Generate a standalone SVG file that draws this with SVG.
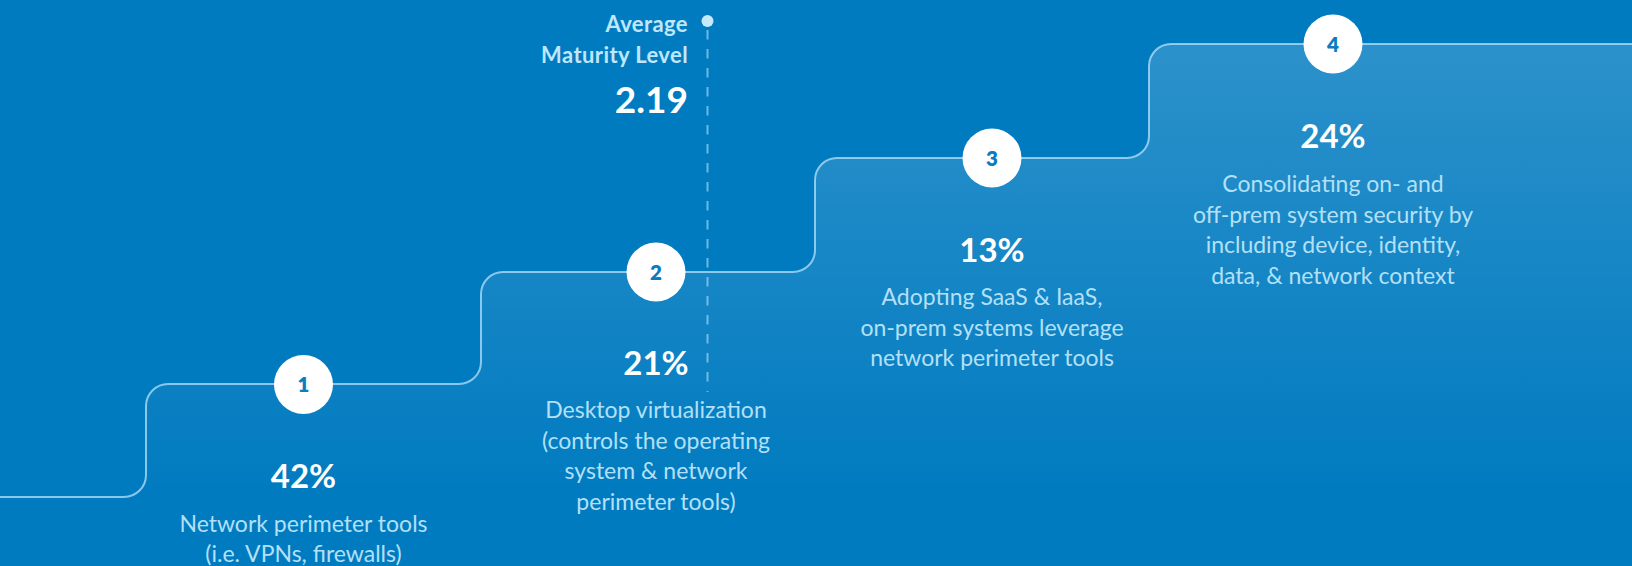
<svg xmlns="http://www.w3.org/2000/svg" width="1632" height="566" viewBox="0 0 1632 566">
<defs>
<linearGradient id="stepFill" gradientUnits="userSpaceOnUse" x1="0" y1="44" x2="0" y2="490">
<stop offset="0" stop-color="#ffffff" stop-opacity="0.17"/>
<stop offset="1" stop-color="#ffffff" stop-opacity="0"/>
</linearGradient>
<style>
.pct{font-family:Lato,"Liberation Sans",sans-serif;font-weight:700;font-size:33px;fill:#ffffff;text-anchor:middle}
.desc{font-family:Lato,"Liberation Sans",sans-serif;font-weight:400;font-size:23px;fill:#b3e0f7;text-anchor:middle}
.num{font-family:Lato,"Liberation Sans",sans-serif;font-weight:800;font-size:20.5px;fill:#0b7cc1;text-anchor:middle}
.circ{fill:#ffffff}
.step{fill:none;stroke:#b5e2fb;stroke-opacity:0.75;stroke-width:2}
.lbl{font-family:Lato,"Liberation Sans",sans-serif;font-weight:700;font-size:22px;letter-spacing:0.4px;fill:#bfe7fc;text-anchor:end}
</style>
</defs>
<rect x="0" y="0" width="1632" height="566" fill="#017bc0"/>
<path d="M0,497 H124 A22,22 0 0 0 146,475 V406 A22,22 0 0 1 168,384 H459 A22,22 0 0 0 481,362 V294 A22,22 0 0 1 503,272 H793 A22,22 0 0 0 815,250 V180 A22,22 0 0 1 837,158 H1127 A22,22 0 0 0 1149,136 V66 A22,22 0 0 1 1171,44 H1632 V566 H0 Z" fill="url(#stepFill)"/>
<g id="connectors">
<path class="step" d="M0,497 H124 A22,22 0 0 0 146,475 V406 A22,22 0 0 1 168,384 H459 A22,22 0 0 0 481,362 V294 A22,22 0 0 1 503,272 H793 A22,22 0 0 0 815,250 V180 A22,22 0 0 1 837,158 H1127 A22,22 0 0 0 1149,136 V66 A22,22 0 0 1 1171,44 H1632"/>
<line x1="707.5" y1="30" x2="707.5" y2="392" stroke="#b5e2fb" stroke-opacity="0.6" stroke-width="2" stroke-dasharray="9.5 9.5"/>
</g>
<g id="average">
<circle cx="707.5" cy="21" r="6" fill="#c5eafc"/>
<text class="lbl" x="688" y="32">Average</text>
<text class="lbl" x="688" y="63">Maturity Level</text>
<text x="688" y="113" font-family="Lato,'Liberation Sans',sans-serif" font-weight="700" font-size="37" fill="#ffffff" text-anchor="end">2.19</text>
</g>
<g id="step1">
<circle class="circ" cx="303.5" cy="384.5" r="29.5"/>
<text class="num" x="303.5" y="392">1</text>
<text class="pct" x="303.5" y="488">42%</text>
<text class="desc" x="303.5" y="532">Network perimeter tools</text>
<text class="desc" x="303.5" y="562">(i.e. VPNs, firewalls)</text>
</g>
<g id="step2">
<circle class="circ" cx="656" cy="272" r="29.5"/>
<text class="num" x="656" y="279.5">2</text>
<text class="pct" x="656" y="375">21%</text>
<text class="desc" x="656" y="418">Desktop virtualization</text>
<text class="desc" x="656" y="448.5">(controls the operating</text>
<text class="desc" x="656" y="479">system &amp; network</text>
<text class="desc" x="656" y="509.5">perimeter tools)</text>
</g>
<g id="step3">
<circle class="circ" cx="992" cy="158" r="29.5"/>
<text class="num" x="992" y="165.5">3</text>
<text class="pct" x="992" y="262">13%</text>
<text class="desc" x="992" y="305">Adopting SaaS &amp; IaaS,</text>
<text class="desc" x="992" y="335.5">on-prem systems leverage</text>
<text class="desc" x="992" y="366">network perimeter tools</text>
</g>
<g id="step4">
<circle class="circ" cx="1333" cy="44" r="29.5"/>
<text class="num" x="1333" y="51.5">4</text>
<text class="pct" x="1333" y="148">24%</text>
<text class="desc" x="1333" y="192">Consolidating on- and</text>
<text class="desc" x="1333" y="222.5">off-prem system security by</text>
<text class="desc" x="1333" y="253">including device, identity,</text>
<text class="desc" x="1333" y="284">data, &amp; network context</text>
</g>
</svg>
